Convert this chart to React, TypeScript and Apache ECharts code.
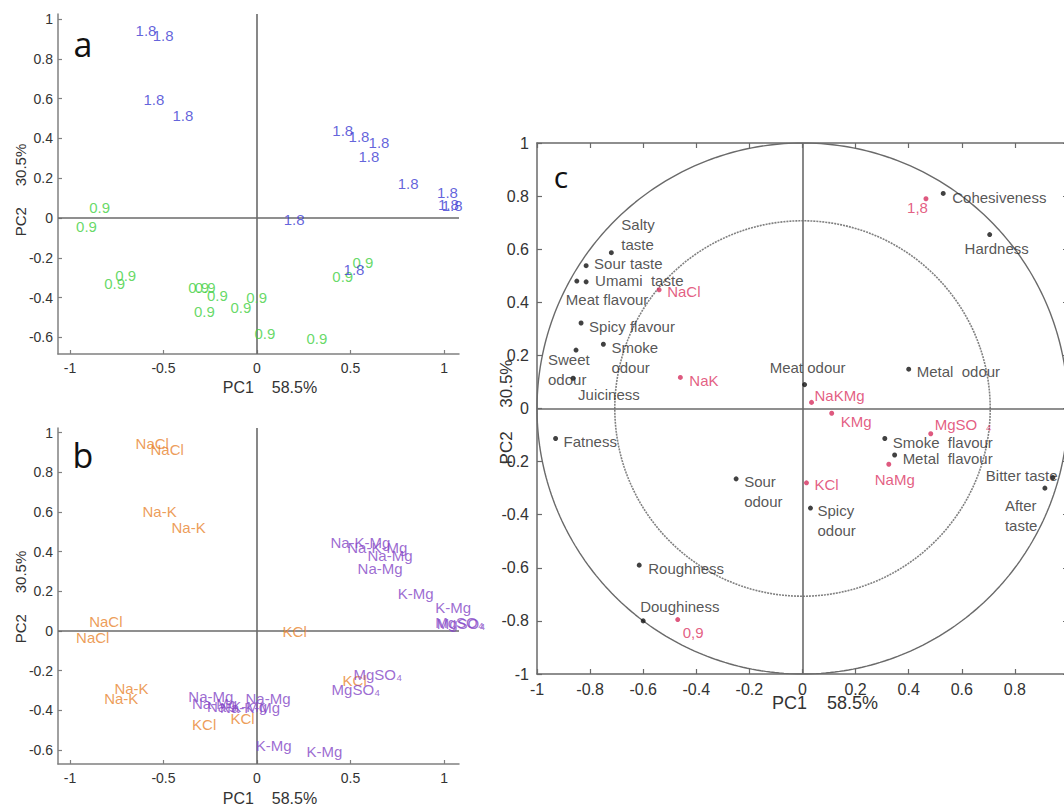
import React, { useEffect, useRef } from 'react';
import * as echarts from 'echarts';

const FONT = '"Liberation Sans", Arial, Helvetica, sans-serif';

// ---------- Panel a: scores coloured by salt level ----------
const aBlueLabel = '1.8';
const aBlueX = [-0.652, -0.56, -0.61, -0.455, 0.4, 0.487, 0.594, 0.54, 0.75, 0.96, 0.965, 0.985, 0.14, 0.46];
const aBlueY = [0.94, 0.915, 0.593, 0.513, 0.442, 0.412, 0.377, 0.307, 0.176, 0.13, 0.07, 0.065, -0.005, -0.256];
const aGreenLabel = '0.9';
const aGreenX = [-0.9, -0.97, -0.76, -0.82, -0.37, -0.335, -0.27, -0.34, -0.145, -0.06, -0.016, 0.262, 0.4, 0.508];
const aGreenY = [0.055, -0.045, -0.29, -0.33, -0.35, -0.35, -0.387, -0.47, -0.447, -0.397, -0.578, -0.603, -0.296, -0.221];

// ---------- Panel b: scores coloured by salt type ----------
const bOrangeNames = ['NaCl', 'NaCl', 'Na-K', 'Na-K', 'NaCl', 'NaCl', 'Na-K', 'Na-K', 'KCl', 'KCl', 'KCl', 'KCl'];
const bOrangeX = [-0.652, -0.572, -0.615, -0.46, -0.9, -0.97, -0.765, -0.82, -0.35, -0.145, 0.134, 0.455];
const bOrangeY = [0.947, 0.917, 0.6, 0.52, 0.05, -0.035, -0.29, -0.34, -0.47, -0.44, 0.0, -0.25];
const bPurpleNames = ['Na-K-Mg', 'Na-K-Mg', 'Na-Mg', 'Na-Mg', 'K-Mg', 'K-Mg', 'MgSO₄', 'MgSO₄', 'Na-Mg', 'Na-Mg', 'Na-K-Mg', 'Na-K-Mg', 'Na-Mg', 'K-Mg', 'K-Mg', 'MgSO₄', 'MgSO₄'];
const bPurpleX = [0.39, 0.48, 0.588, 0.535, 0.75, 0.95, 0.95, 0.958, -0.37, -0.35, -0.27, -0.2, -0.064, -0.01, 0.262, 0.513, 0.396];
const bPurpleY = [0.448, 0.423, 0.383, 0.317, 0.19, 0.12, 0.045, 0.04, -0.33, -0.363, -0.378, -0.385, -0.338, -0.575, -0.605, -0.22, -0.297];

// ---------- Panel c: correlation loadings ----------
const cAttrNames = ['Salty\ntaste', 'Sour taste', 'Umami  taste', 'Meat flavour', 'Spicy flavour', 'Smoke\nodour', 'Sweet\nodour', 'Juiciness', 'Meat odour', 'Metal  odour', 'Cohesiveness', 'Hardness', 'Fatness', 'Sour\nodour', 'Roughness', 'Doughiness', 'Smoke  flavour', 'Metal  flavour', 'Spicy\nodour', 'Bitter taste', 'After\ntaste'];
const cAttrX = [-0.72, -0.815, -0.815, -0.85, -0.834, -0.75, -0.853, -0.864, 0.008, 0.4, 0.53, 0.705, -0.93, -0.25, -0.615, -0.6, 0.31, 0.347, 0.03, 0.943, 0.913];
const cAttrY = [0.587, 0.538, 0.477, 0.48, 0.322, 0.242, 0.22, 0.114, 0.09, 0.148, 0.81, 0.655, -0.113, -0.265, -0.59, -0.8, -0.113, -0.175, -0.375, -0.26, -0.3];
const cSampleNames = ['1,8', 'NaCl', 'NaK', 'NaKMg', 'KMg', 'MgSO  ₄', 'NaMg', 'KCl', '0,9'];
const cSampleX = [0.465, -0.54, -0.46, 0.034, 0.11, 0.483, 0.325, 0.015, -0.47];
const cSampleY = [0.79, 0.447, 0.117, 0.023, -0.018, -0.095, -0.21, -0.28, -0.795];

// ticks
const abXTicks = [-1, -0.5, 0, 0.5, 1];
const abYTicks = [-0.6, -0.4, -0.2, 0, 0.2, 0.4, 0.6, 0.8, 1];
const cTickStep = 0.2;
const cXLabelValues = [-1, -0.8, -0.6, -0.4, -0.2, 0, 0.2, 0.4, 0.6, 0.8];
const circleRadii = [1, 0.707];

// label placement for panel c (align, dx, dy relative to the dot)
const cLabelLayout: Record<string, [string, number, number]> = {
  'Salty\ntaste': ['left', 10, -18],
  'Sour taste': ['left', 8, -2],
  'Umami  taste': ['left', 9, -1],
  'Meat flavour': ['left', -11, 18],
  'Spicy flavour': ['left', 8, 3],
  'Smoke\nodour': ['left', 8, 13],
  'Sweet\nodour': ['left', -28, 19],
  'Juiciness': ['left', 5, 16],
  'Meat odour': ['center', 3, -17],
  'Metal  odour': ['left', 8, 2],
  'Cohesiveness': ['left', 9, 4],
  'Hardness': ['center', 7, 14],
  'Fatness': ['left', 8, 3],
  'Sour\nodour': ['left', 8, 13],
  'Roughness': ['left', 9, 3],
  'Doughiness': ['left', -3, -14],
  'Smoke  flavour': ['left', 8, 4],
  'Metal  flavour': ['left', 8, 4],
  'Spicy\nodour': ['left', 7, 12],
  'Bitter taste': ['left', -67, -2],
  'After\ntaste': ['left', -40, 27],
  '1,8': ['right', 2, 9],
  'NaCl': ['left', 8, 2],
  'NaK': ['left', 9, 3],
  'NaKMg': ['left', 3, -7],
  'KMg': ['left', 9, 8],
  'MgSO  ₄': ['left', 4, -9],
  'NaMg': ['center', 6, 15],
  'KCl': ['left', 8, 2],
  '0,9': ['left', 5, 13],
};

const fmt = (v: number) => String(Math.round(v * 10) / 10);

function textScatter(names: string[] | string, xs: number[], ys: number[], color: string, idx: number) {
  return {
    type: 'scatter',
    xAxisIndex: idx,
    yAxisIndex: idx,
    symbolSize: 1,
    itemStyle: { color: 'rgba(0,0,0,0)' },
    silent: true,
    data: xs.map((x, i) => ({ name: Array.isArray(names) ? names[i] : names, value: [x, ys[i]] })),
    label: {
      show: true,
      position: 'right',
      distance: 0,
      formatter: '{b}',
      color,
      fontSize: 15,
      fontFamily: FONT,
    },
    z: 5,
  };
}

function zeroLines(idx: number) {
  return {
    type: 'line',
    xAxisIndex: idx,
    yAxisIndex: idx,
    data: [],
    silent: true,
    markLine: {
      silent: true,
      symbol: ['none', 'none'],
      label: { show: false },
      lineStyle: { color: '#6a6a6a', width: 1.6, type: 'solid' },
      data: [{ xAxis: 0 }, { yAxis: 0 }],
    },
  };
}

function circleData(r: number) {
  const pts: number[][] = [];
  for (let d = 0; d <= 360; d += 1) {
    const t = (d * Math.PI) / 180;
    pts.push([r * Math.cos(t), r * Math.sin(t)]);
  }
  return pts;
}

function cDots(names: string[], xs: number[], ys: number[], dotColor: string, textColor: string) {
  return {
    type: 'scatter',
    xAxisIndex: 2,
    yAxisIndex: 2,
    symbolSize: 5,
    silent: true,
    itemStyle: { color: dotColor },
    data: xs.map((x, i) => {
      const lay = cLabelLayout[names[i]] || ['left', 8, 0];
      return {
        name: names[i],
        value: [x, ys[i]],
        label: { align: lay[0], offset: [lay[1], lay[2]] },
      };
    }),
    label: {
      show: true,
      position: 'inside',
      verticalAlign: 'middle',
      formatter: '{b}',
      color: textColor,
      fontSize: 15,
      lineHeight: 20,
      fontFamily: FONT,
    },
    z: 6,
  };
}

const abAxisLine = { show: true, onZero: false, lineStyle: { color: '#808080', width: 1.5 } };
const abLabel = { color: '#333', fontSize: 14, fontFamily: FONT, formatter: fmt, showMinLabel: true, showMaxLabel: true };

function abXAxis(grid: number) {
  return {
    type: 'value', gridIndex: grid, min: -1.064, max: 1.08,
    axisLine: abAxisLine,
    axisTick: { show: true, inside: true, length: 4, lineStyle: { color: '#808080', width: 1.2 }, customValues: abXTicks },
    axisLabel: { ...abLabel, margin: 7, customValues: abXTicks },
    splitLine: { show: false },
  };
}
function abYAxis(grid: number, min: number, max: number) {
  return {
    type: 'value', gridIndex: grid, min, max,
    axisLine: abAxisLine,
    axisTick: { show: true, inside: true, length: 4, lineStyle: { color: '#808080', width: 1.2 }, customValues: abYTicks },
    axisLabel: { ...abLabel, margin: 5, customValues: abYTicks },
    splitLine: { show: false },
  };
}

const cLine = { show: true, onZero: false, lineStyle: { color: '#6a6a6a', width: 1.5 } };
const cTick = { show: true, inside: true, length: 5, lineStyle: { color: '#6a6a6a', width: 1.2 } };
const cLabel = { color: '#333', fontSize: 16, fontFamily: FONT, formatter: fmt };

export default function App() {
  const ref = useRef<HTMLDivElement>(null);
  useEffect(() => {
    document.body.style.margin = '0';
    if (!ref.current) return;
    const chart = echarts.init(ref.current, undefined, { renderer: 'svg' });
    const nameStyle = { fill: '#333', fontSize: 16, fontFamily: FONT, align: 'center', verticalAlign: 'middle' };
    chart.setOption({
      animation: false,
      backgroundColor: '#fff',
      grid: [
        { left: 58, top: 14, width: 401, height: 340, outerBoundsMode: 'none' },
        { left: 58, top: 428, width: 401, height: 336, outerBoundsMode: 'none' },
        { left: 537, top: 143, width: 531, height: 531, outerBoundsMode: 'none' },
      ],
      xAxis: [
        abXAxis(0),
        abXAxis(1),
        {
          type: 'value', gridIndex: 2, min: -1, max: 1, interval: cTickStep, position: 'bottom',
          axisLine: cLine, axisTick: cTick, axisLabel: { ...cLabel, margin: 7, customValues: cXLabelValues }, splitLine: { show: false },
        },
        {
          type: 'value', gridIndex: 2, min: -1, max: 1, interval: cTickStep, position: 'top',
          axisLine: cLine, axisTick: cTick, axisLabel: { show: false }, splitLine: { show: false },
        },
      ],
      yAxis: [
        abYAxis(0, -0.683, 1.025),
        abYAxis(1, -0.67, 1.023),
        {
          type: 'value', gridIndex: 2, min: -1, max: 1, interval: cTickStep, position: 'left',
          axisLine: cLine, axisTick: cTick, axisLabel: { ...cLabel, margin: 8 }, splitLine: { show: false },
        },
        {
          type: 'value', gridIndex: 2, min: -1, max: 1, interval: cTickStep, position: 'right',
          axisLine: cLine, axisTick: cTick, axisLabel: { show: false }, splitLine: { show: false },
        },
      ],
      series: [
        zeroLines(0),
        zeroLines(1),
        zeroLines(2),
        textScatter(aGreenLabel, aGreenX, aGreenY, '#3fcf3f', 0),
        textScatter(aBlueLabel, aBlueX, aBlueY, '#3b3bd2', 0),
        textScatter(bOrangeNames, bOrangeX, bOrangeY, '#e8842e', 1),
        textScatter(bPurpleNames, bPurpleX, bPurpleY, '#8446c6', 1),
        {
          type: 'line', xAxisIndex: 2, yAxisIndex: 2, showSymbol: false, silent: true,
          data: circleData(circleRadii[0]),
          lineStyle: { color: '#6a6a6a', width: 1.4 },
        },
        {
          type: 'line', xAxisIndex: 2, yAxisIndex: 2, showSymbol: false, silent: true,
          data: circleData(circleRadii[1]),
          lineStyle: { color: '#808080', width: 1.6, type: [2, 1] },
        },
        cDots(cAttrNames, cAttrX, cAttrY, '#111', '#2a2a2a'),
        cDots(cSampleNames, cSampleX, cSampleY, '#d62f5f', '#dc3563'),
      ],
      graphic: [
        { type: 'text', x: 83, y: 44, style: { text: 'a', fill: '#111', fontSize: 34, fontFamily: '"Open Sans", ' + FONT, align: 'center', verticalAlign: 'middle' } },
        { type: 'text', x: 83, y: 455, style: { text: 'b', fill: '#111', fontSize: 34, fontFamily: '"Open Sans", ' + FONT, align: 'center', verticalAlign: 'middle' } },
        { type: 'text', x: 561, y: 176, style: { text: 'c', fill: '#111', fontSize: 30, fontFamily: '"Open Sans", ' + FONT, align: 'center', verticalAlign: 'middle' } },
        { type: 'text', x: 270, y: 387, style: { ...nameStyle, text: 'PC1    58.5%' } },
        { type: 'text', x: 270, y: 798, style: { ...nameStyle, text: 'PC1    58.5%' } },
        { type: 'text', x: 825, y: 703, style: { ...nameStyle, fontSize: 18, text: 'PC1    58.5%' } },
        { type: 'text', x: 20, y: 190, rotation: Math.PI / 2, style: { ...nameStyle, fontSize: 15, text: 'PC2     30.5%' } },
        { type: 'text', x: 20, y: 597, rotation: Math.PI / 2, style: { ...nameStyle, fontSize: 15, text: 'PC2     30.5%' } },
        { type: 'text', x: 506, y: 412, rotation: Math.PI / 2, style: { ...nameStyle, fontSize: 17, text: 'PC2     30.5%' } },
      ],
    });
    return () => chart.dispose();
  }, []);
  return <div ref={ref} style={{ width: 1064, height: 807 }} />;
}
